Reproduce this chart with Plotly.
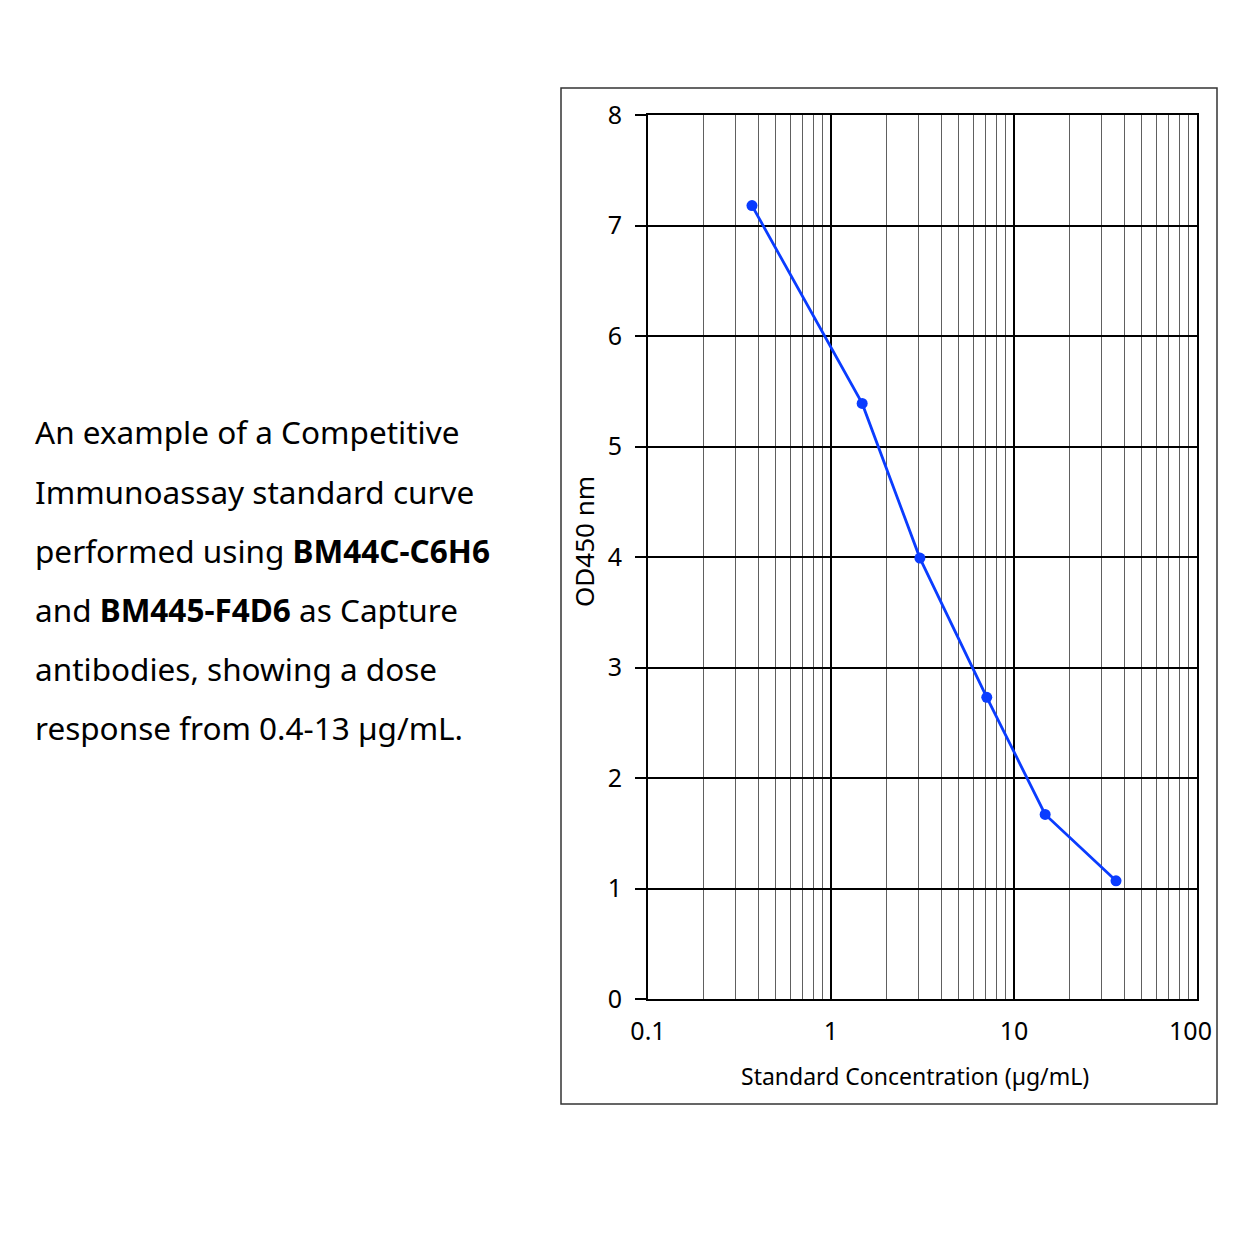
import plotly.graph_objects as go

conc = [0.37, 1.48, 3.06, 7.1, 14.8, 36.1]
od450 = [7.18, 5.39, 3.99, 2.73, 1.67, 1.07]

x_tickvals = [0.1, 1, 10, 100]
x_ticktext = ["0.1", "1", "10", "100\u00a0\u00a0"]
y_ticks = [0, 1, 2, 3, 4, 5, 6, 7, 8]
x_title = "Standard Concentration (µg/mL)"
y_title = "OD450 nm"

desc_lines = [
    "An example of a Competitive",
    "Immunoassay standard curve",
    "performed using <b>BM44C-C6H6</b>",
    "and <b>BM445-F4D6</b> as Capture",
    "antibodies, showing a dose",
    "response from 0.4-13 µg/mL.",
]

W = H = 1254
OFF = 8  # page body offset
L, R, T, B = 648 - OFF, 1197 - OFF, 115 - OFF, 999 - OFF


def px(x):
    return (x - OFF - L) / (R - L)


def py(y):
    return (B - (y - OFF)) / (B - T)


fig = go.Figure()
fig.add_trace(go.Scatter(
    x=conc, y=od450, mode="lines+markers",
    line=dict(color="#0a3cff", width=2.8),
    marker=dict(color="#0a3cff", size=11),
    showlegend=False,
))

FONT = "Noto Sans"
fig.update_layout(
    width=W, height=H,
    margin=dict(l=L, r=W - R, t=T, b=H - B),
    paper_bgcolor="white", plot_bgcolor="white",
    font=dict(family=FONT, color="black"),
    xaxis=dict(
        type="log", range=[-1, 2],
        tickmode="array", tickvals=x_tickvals, ticktext=x_ticktext,
        showgrid=True, gridcolor="black", gridwidth=2,
        minor=dict(dtick="D1", showgrid=True, gridcolor="#606060", gridwidth=1.4),
        showline=True, linecolor="black", linewidth=2, mirror=True,
        ticks="", ticklabelstandoff=9,
        tickfont=dict(size=25, family=FONT),
        zeroline=False,
    ),
    yaxis=dict(
        range=[0, 8], tickvals=y_ticks,
        showgrid=True, gridcolor="black", gridwidth=1.6,
        showline=True, linecolor="black", linewidth=2, mirror=True,
        ticks="outside", ticklen=11, tickcolor="black", tickwidth=1.6,
        ticklabelstandoff=8,
        tickfont=dict(size=25, family=FONT),
        zeroline=False,
    ),
)

# outer frame
fig.add_shape(type="rect", xref="paper", yref="paper",
              x0=px(561), x1=px(1217), y0=py(1104), y1=py(88),
              line=dict(color="#333333", width=1.5), layer="below")

# axis titles
fig.add_annotation(text=x_title, xref="paper", yref="paper",
                   x=px(915), y=py(1076),
                   showarrow=False, font=dict(size=23, family=FONT),
                   xanchor="center", yanchor="middle")
fig.add_annotation(text=y_title, xref="paper", yref="paper",
                   x=px(584), y=py(542),
                   showarrow=False, textangle=-90, font=dict(size=26, family=FONT),
                   xanchor="center", yanchor="middle")

# description text
for i, line in enumerate(desc_lines):
    yc = 432 + 59 * i
    fig.add_annotation(text=line, xref="paper", yref="paper",
                       x=px(33), y=py(yc),
                       showarrow=False, xanchor="left", yanchor="middle",
                       font=dict(size=31.5, family=FONT))

fig.write_html("out.html")
